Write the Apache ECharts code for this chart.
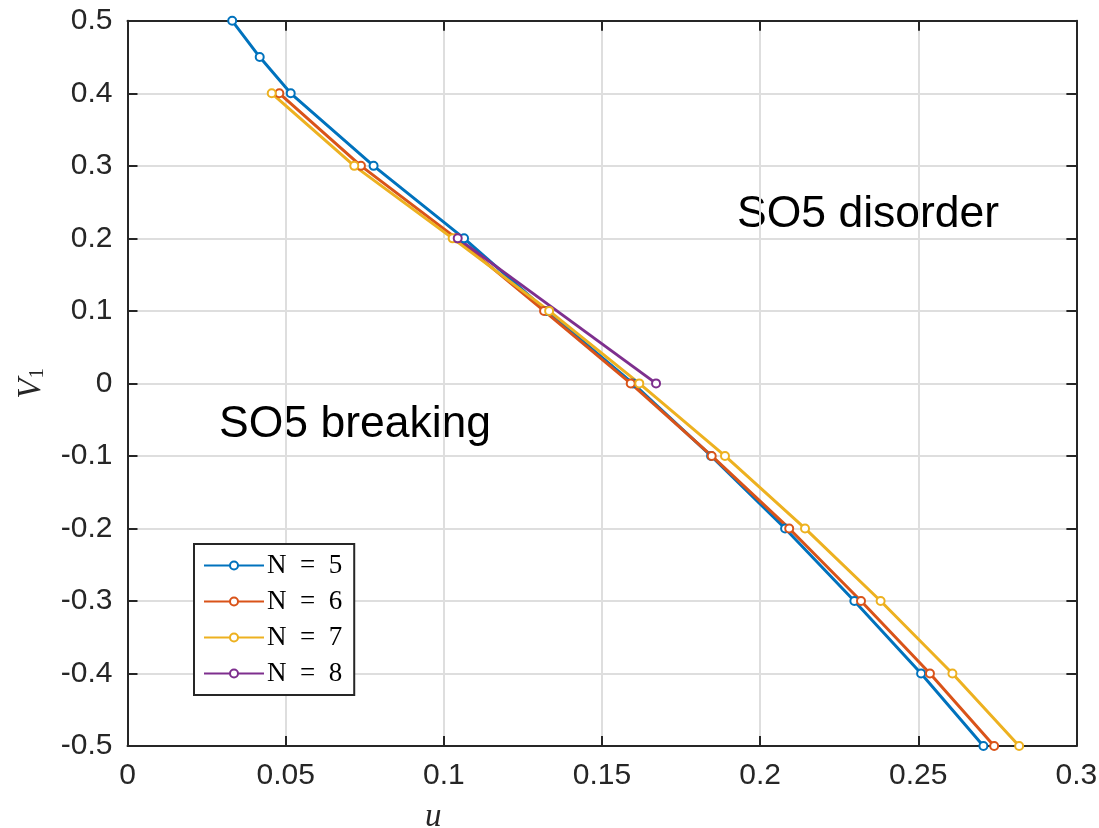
<!DOCTYPE html>
<html>
<head>
<meta charset="utf-8">
<script src="https://cdn.jsdelivr.net/npm/echarts@6/dist/echarts.min.js"></script>
<style>
  html, body { margin: 0; padding: 0; background: #fff; }
  #chart { width: 1099px; height: 828px; }
</style>
</head>
<body>
<div id="chart"></div>
<script>
// Phase boundary V1(u) for several system sizes N
const seriesNames = ['N\u2002=\u20025', 'N\u2002=\u20026', 'N\u2002=\u20027', 'N\u2002=\u20028'];

const v5 = [0.5, 0.45, 0.4, 0.3, 0.2, 0.1, 0, -0.1, -0.2, -0.3, -0.4, -0.5];
const u5 = [0.0331, 0.0418, 0.0516, 0.0778, 0.1064, 0.1325, 0.1598, 0.1845, 0.2079, 0.2298, 0.2509, 0.2706];

const v6 = [0.4, 0.3, 0.2, 0.1, 0, -0.1, -0.2, -0.3, -0.4, -0.5];
const u6 = [0.0480, 0.0738, 0.1040, 0.1317, 0.1591, 0.1847, 0.2092, 0.2319, 0.2537, 0.2740];

const v7 = [0.4, 0.3, 0.2, 0.1, 0, -0.1, -0.2, -0.3, -0.4, -0.5];
const u7 = [0.0456, 0.0717, 0.1028, 0.1333, 0.1618, 0.1889, 0.2142, 0.2381, 0.2608, 0.2819];

const v8 = [0.2, 0];
const u8 = [0.1044, 0.1671];

const xTickLabels = ['0', '0.05', '0.1', '0.15', '0.2', '0.25', '0.3'];
const yTickLabels = ['-0.5', '-0.4', '-0.3', '-0.2', '-0.1', '0', '0.1', '0.2', '0.3', '0.4', '0.5'];

const regionLabels = ['SO5 disorder', 'SO5 breaking'];

const colors = ['#0072BD', '#D95319', '#EDB120', '#7E2F8E'];

function pairs(us, vs) {
  return us.map((u, i) => [u, vs[i]]);
}

const curves = [pairs(u5, v5), pairs(u6, v6), pairs(u7, v7), pairs(u8, v8)];

const axisColor = '#262626';
const gridColor = '#dedede';
const tickFont = 'Liberation Sans, Arial, Helvetica, sans-serif';
const serifFont = 'Liberation Serif, Times New Roman, serif';

const chart = echarts.init(document.getElementById('chart'), null, { renderer: 'canvas' });

const commonX = {
  type: 'value', min: 0, max: 0.3, interval: 0.05,
  axisLine: { show: true, onZero: false, lineStyle: { color: axisColor, width: 2 } },
  axisTick: { show: true, inside: true, length: 10, lineStyle: { color: axisColor, width: 2 } }
};
const commonY = {
  type: 'value', min: -0.5, max: 0.5, interval: 0.1,
  axisLine: { show: true, onZero: false, lineStyle: { color: axisColor, width: 2 } },
  axisTick: { show: true, inside: true, length: 10, lineStyle: { color: axisColor, width: 2 } }
};

chart.setOption({
  animation: false,
  backgroundColor: '#ffffff',
  color: colors,
  grid: { left: 127.5, right: 22.6, top: 20.8, bottom: 82, containLabel: false, outerBoundsMode: 'none' },
  xAxis: [
    Object.assign({}, commonX, {
      position: 'bottom',
      splitLine: { show: true, lineStyle: { color: gridColor, width: 2 } },
      axisLabel: {
        margin: 15, fontSize: 30, color: axisColor, fontFamily: tickFont,
        formatter: v => xTickLabels[Math.round(v / 0.05)]
      }
    }),
    Object.assign({}, commonX, {
      position: 'top',
      splitLine: { show: false },
      axisLabel: { show: false }
    })
  ],
  yAxis: [
    Object.assign({}, commonY, {
      position: 'left',
      splitLine: { show: true, lineStyle: { color: gridColor, width: 2 } },
      axisLabel: {
        margin: 15, fontSize: 30, color: axisColor, fontFamily: tickFont,
        formatter: v => yTickLabels[Math.round((v + 0.5) / 0.1)]
      },
      name: '{v|V}{s|1}',
      nameLocation: 'middle',
      nameRotate: 90,
      nameGap: 80,
      nameTextStyle: {
        rich: {
          v: { fontFamily: serifFont, fontStyle: 'italic', fontSize: 33, color: axisColor },
          s: { fontFamily: serifFont, fontSize: 21, color: axisColor, padding: [12, 0, 0, 0] }
        }
      }
    }),
    Object.assign({}, commonY, {
      position: 'right',
      splitLine: { show: false },
      axisLabel: { show: false }
    })
  ],
  legend: {
    data: seriesNames,
    orient: 'vertical',
    left: 194,
    top: 544,
    padding: [8, 12, 8, 9],
    itemGap: 9,
    itemWidth: 60,
    itemHeight: 10,
    backgroundColor: '#ffffff',
    borderColor: axisColor,
    borderWidth: 2,
    borderRadius: 0,
    textStyle: {
      fontFamily: serifFont,
      fontSize: 27, lineHeight: 26, color: '#000', padding: [0, 0, 0, -2]
    }
  },
  series: curves.map((pts, i) => ({
    name: seriesNames[i],
    type: 'line',
    xAxisIndex: 0,
    yAxisIndex: 0,
    data: pts,
    symbol: 'emptyCircle',
    symbolSize: 8,
    showAllSymbol: true,
    lineStyle: { width: 3, color: colors[i] },
    itemStyle: { color: colors[i], borderWidth: 2.2 },
    emphasis: { disabled: true }
  })),
  graphic: [
    {
      type: 'text', left: 737, top: 192, silent: true,
      style: { text: regionLabels[0], fontSize: 44.5, fontFamily: tickFont, fill: '#000' }
    },
    {
      type: 'text', left: 219, top: 402, silent: true,
      style: { text: regionLabels[1], fontSize: 44.5, fontFamily: tickFont, fill: '#000' }
    },
    {
      type: 'text', left: 425, top: 801, silent: true,
      style: { text: 'u', fontSize: 33, fontStyle: 'italic', fontFamily: serifFont, fill: axisColor }
    }
  ]
});
</script>
</body>
</html>
